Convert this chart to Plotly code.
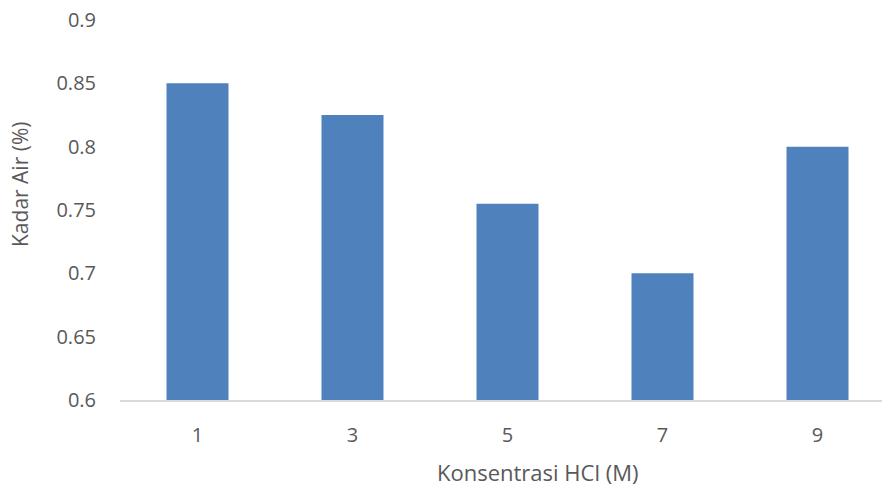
import plotly.graph_objects as go

# HCl concentration (M) and measured water content (%)
konsentrasi = ["1", "3", "5", "7", "9"]
kadar_air = [0.85, 0.825, 0.755, 0.70, 0.80]
y_ticks = [0.6, 0.65, 0.7, 0.75, 0.8, 0.85, 0.9]
y_tick_text = ["0.6", "0.65", "0.7", "0.75", "0.8", "0.85", "0.9"]

W, H = 882, 487
ML, MR, MT, MB = 120, 0, 20, 87
plot_w = W - ML - MR
plot_h = H - MT - MB
cat_px = 155  # width of one category slot in pixels

text_col = "#595959"
font_family = "Open Sans, Noto Sans, sans-serif"

fig = go.Figure(
    go.Bar(
        x=konsentrasi,
        y=kadar_air,
        marker=dict(color="#4F81BD", line=dict(width=0)),
    )
)

fig.update_layout(
    width=W,
    height=H,
    margin=dict(l=ML, r=MR, t=MT, b=MB),
    paper_bgcolor="white",
    plot_bgcolor="white",
    bargap=0.6,
    showlegend=False,
    font=dict(family=font_family, color=text_col, size=20),
)

fig.update_xaxes(
    type="category",
    range=[-0.5, -0.5 + plot_w / cat_px],
    showline=True,
    linecolor="#D9D9D9",
    linewidth=1.5,
    showgrid=False,
    zeroline=False,
    ticks="",
    ticklabelstandoff=16,
    tickfont=dict(size=20, color=text_col),
)

fig.update_yaxes(
    range=[0.6, 0.9],
    tickvals=y_ticks,
    ticktext=y_tick_text,
    showline=False,
    showgrid=False,
    zeroline=False,
    ticks="",
    ticklabelstandoff=23,
    tickfont=dict(size=20, color=text_col),
)

fig.add_annotation(
    text="Kadar Air (%)",
    xref="paper", yref="paper",
    x=0, xshift=-100,
    y=(H - MB - 185) / plot_h,
    textangle=-90,
    showarrow=False,
    xanchor="center", yanchor="middle",
    font=dict(size=21, color=text_col, family=font_family),
)

fig.add_annotation(
    text="Konsentrasi HCl (M)",
    xref="paper", yref="paper",
    x=(537 - ML) / plot_w,
    y=0, yshift=-72,
    showarrow=False,
    xanchor="center", yanchor="middle",
    font=dict(size=22, color=text_col, family=font_family),
)

fig.write_html("out.html")
